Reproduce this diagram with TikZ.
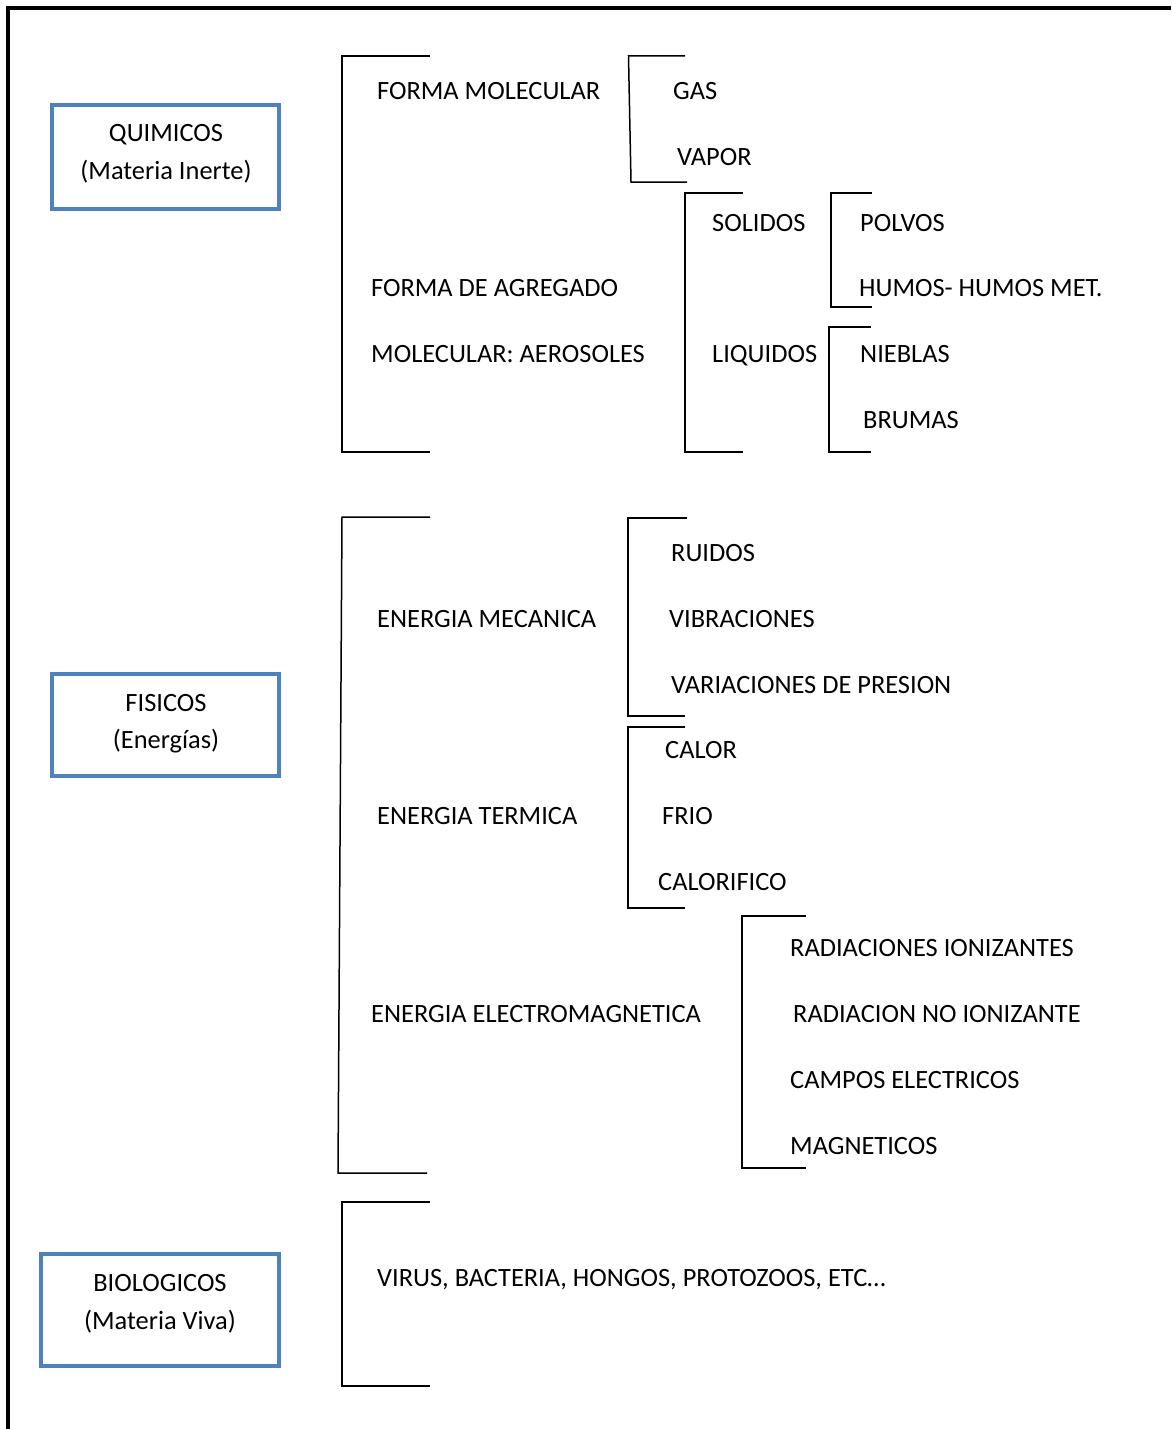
\documentclass[tikz,border=0pt]{standalone}
\usepackage{fontspec}
\setmainfont{Carlito}
\definecolor{boxblue}{HTML}{4F81BD}
\begin{document}
\begin{tikzpicture}[x=1pt,y=-1pt,
  lbl/.style={anchor=base west,inner sep=0pt,font=\fontsize{26.4}{32}\selectfont},
  blbl/.style={anchor=base,inner sep=0pt,font=\fontsize{26.4}{32}\selectfont},
  catbox/.style={draw=boxblue,line width=4pt,rectangle,inner sep=0pt},
  brk/.style={line width=1.5pt,line cap=butt},
  frame/.style={line width=4pt}]
\useasboundingbox (0,0) rectangle (1171,1429);
% frame
\draw[frame] (1171,8.5) -- (7.5,8.5) -- (7.5,1429);
% category boxes
\node[catbox,minimum width=227pt,minimum height=104pt] (qbox) at (165.5,157) {};
\node[blbl] (q1) at (166,141.5) {QUIMICOS};
\node[blbl] (q2) at (166,179.5) {(Materia Inerte)};
\node[catbox,minimum width=227pt,minimum height=102pt] (fbox) at (165.5,725) {};
\node[blbl] (f1) at (166,711.5) {FISICOS};
\node[blbl] (f2) at (166,748.5) {(Energías)};
\node[catbox,minimum width=238pt,minimum height=112pt] (bbox) at (160,1310) {};
\node[blbl] (b1) at (160,1291.5) {BIOLOGICOS};
\node[blbl] (b2) at (160,1329.5) {(Materia Viva)};
% brackets
\draw[brk] (430,56) -- (342,56) -- (342,452) -- (430,452);
\draw[brk] (685,56) -- (628.5,56) -- (631,182) -- (687,182);
\draw[brk] (743,193) -- (685,193) -- (685,452) -- (743,452);
\draw[brk] (872,193) -- (831,193) -- (831,307) -- (872,307);
\draw[brk] (871,327) -- (829,327) -- (829,452) -- (871,452);
\draw[brk] (430,517) -- (342,517) -- (338,1173) -- (427,1173);
\draw[brk] (687,518) -- (628,518) -- (628,716) -- (685,716);
\draw[brk] (685,727) -- (628,727) -- (628,908) -- (685,908);
\draw[brk] (806,916) -- (742,916) -- (742,1168) -- (806,1168);
\draw[brk] (430,1202) -- (342,1202) -- (342,1386) -- (430,1386);
% texts
\node[lbl] (t1) at (377,99.5) {FORMA MOLECULAR};
\node[lbl] (t2) at (673,99.5) {GAS};
\node[lbl] (t3) at (677,165.5) {VAPOR};
\node[lbl] (t4) at (712,231.5) {SOLIDOS};
\node[lbl] (t5) at (860,231.5) {POLVOS};
\node[lbl] (t6) at (371,296.5) {FORMA DE AGREGADO};
\node[lbl] (t7) at (859,296.5) {HUMOS- HUMOS MET.};
\node[lbl] (t8) at (371,362.5) {MOLECULAR: AEROSOLES};
\node[lbl] (t9) at (712,362.5) {LIQUIDOS};
\node[lbl] (t10) at (860,362.5) {NIEBLAS};
\node[lbl] (t11) at (863,428.5) {BRUMAS};
\node[lbl] (t12) at (671,561.5) {RUIDOS};
\node[lbl] (t13) at (377,627.5) {ENERGIA MECANICA};
\node[lbl] (t14) at (669,627.5) {VIBRACIONES};
\node[lbl] (t15) at (671,693.5) {VARIACIONES DE PRESION};
\node[lbl] (t16) at (665,758.5) {CALOR};
\node[lbl] (t17) at (377,824.5) {ENERGIA TERMICA};
\node[lbl] (t18) at (662,824.5) {FRIO};
\node[lbl] (t19) at (658,890.5) {CALORIFICO};
\node[lbl] (t20) at (790,956.5) {RADIACIONES IONIZANTES};
\node[lbl] (t21) at (371,1022.5) {ENERGIA ELECTROMAGNETICA};
\node[lbl] (t22) at (793,1022.5) {RADIACION NO IONIZANTE};
\node[lbl] (t23) at (790,1088.5) {CAMPOS ELECTRICOS};
\node[lbl] (t24) at (790,1154.5) {MAGNETICOS};
\node[lbl] (t25) at (377,1286.5) {VIRUS, BACTERIA, HONGOS, PROTOZOOS, ETC…};
\end{tikzpicture}
\end{document}
